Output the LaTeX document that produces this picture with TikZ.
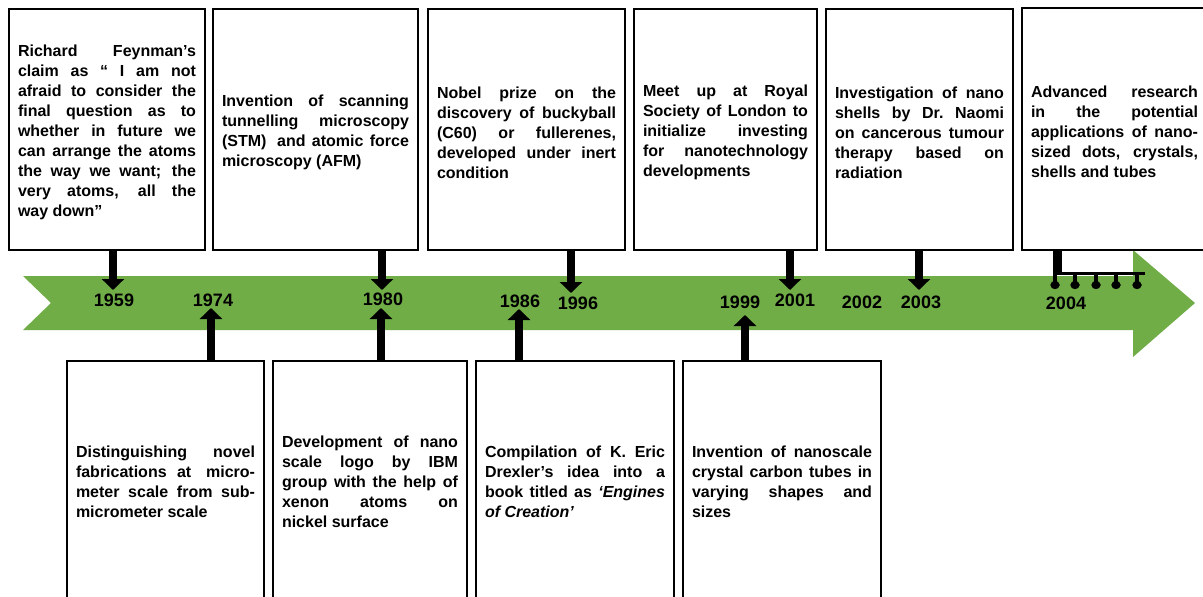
\documentclass[tikz,border=0pt]{standalone}
\usepackage{fontspec}
\setmainfont{Liberation Sans}
\usetikzlibrary{arrows.meta}
\definecolor{tlgreen}{HTML}{70AD47}
\newlength\rowW
\newcommand\jrow[1]{\hbox to\rowW{\spaceskip=0.278em plus 1fil\relax\xspaceskip=\spaceskip #1}}
\newcommand\lrow[1]{\hbox{\spaceskip=0.278em\relax\xspaceskip=\spaceskip #1}}
\newcommand\downtext[1]{\vbox{\kern6pt #1}}
\begin{document}
\begin{tikzpicture}[x=1pt,y=-1pt,
  evbox/.style={draw, line width=2pt, fill=white, inner xsep=9pt, inner ysep=0pt,
    anchor=north west, font=\fontsize{16}{20}\selectfont\bfseries,
    text width=#1},
  yearlbl/.style={font=\fontsize{18}{18}\selectfont\bfseries, inner sep=0pt},
  conn/.style={line width=8.5pt, -{Triangle[width=22pt,length=11pt]}},
  pinline/.style={line width=4.5pt, -{Circle[length=8pt,width=9pt]}}]
\useasboundingbox (0,0) rectangle (1203,597);
\fill[white] (0,0) rectangle (1203,597);
% timeline arrow
\fill[tlgreen] (23,276) -- (1133,276) -- (1133,250) -- (1195,303) -- (1133,357)
  -- (1133,330) -- (23,330) -- (51,303) -- cycle;
% year labels
\node[yearlbl] (y1959) at (114,300) {1959};
\node[yearlbl] (y1974) at (213,300) {1974};
\node[yearlbl] (y1980) at (383,299) {1980};
\node[yearlbl] (y1986) at (520,301) {1986};
\node[yearlbl] (y1996) at (578,303) {1996};
\node[yearlbl] (y1999) at (740,302) {1999};
\node[yearlbl] (y2001) at (795,300) {2001};
\node[yearlbl] (y2002) at (862,302) {2002};
\node[yearlbl] (y2003) at (921,302) {2003};
\node[yearlbl] (y2004) at (1066,303) {2004};
% top boxes
\setlength{\rowW}{178pt}
\node[evbox=178pt, minimum height=241pt] (b1) at (8,8) {\downtext{%
\jrow{Richard Feynman’s}
\jrow{claim as “ I am not}
\jrow{afraid to consider the}
\jrow{final question as to}
\jrow{whether in future we}
\jrow{can arrange the atoms}
\jrow{the way we want; the}
\jrow{very atoms, all the}
\lrow{way down”}}};
\setlength{\rowW}{187pt}
\node[evbox=187pt, minimum height=241pt] (b2) at (212,8) {\downtext{%
\jrow{Invention of scanning}
\jrow{tunnelling microscopy}
\jrow{(STM)\hskip0.278em\ and atomic force}
\lrow{microscopy (AFM)}}};
\setlength{\rowW}{179pt}
\node[evbox=179pt, minimum height=241pt] (b3) at (427,8) {\downtext{%
\jrow{Nobel prize on the}
\jrow{discovery of buckyball}
\jrow{(C60) or fullerenes,}
\jrow{developed under inert}
\lrow{condition}}};
\setlength{\rowW}{165pt}
\node[evbox=165pt, minimum height=241pt] (b4) at (633,8) {\downtext{%
\jrow{Meet up at Royal}
\jrow{Society of London to}
\jrow{initialize investing}
\jrow{for nanotechnology}
\lrow{developments}}};
\setlength{\rowW}{169pt}
\node[evbox=169pt, minimum height=241pt] (b5) at (825,8) {\downtext{%
\jrow{Investigation of nano}
\jrow{shells by Dr. Naomi}
\jrow{on cancerous tumour}
\jrow{therapy based on}
\lrow{radiation}}};
\setlength{\rowW}{167pt}
\node[evbox=167pt, minimum height=242pt] (b6) at (1021,7) {\downtext{%
\jrow{Advanced research}
\jrow{in the potential}
\jrow{applications of nano-}
\jrow{sized dots, crystals,}
\lrow{shells and tubes}}};
% bottom boxes
\setlength{\rowW}{179pt}
\node[evbox=179pt, minimum height=242pt] (c1) at (66,360) {%
\jrow{Distinguishing novel}
\jrow{fabrications at\hskip0.278em\ micro-}
\jrow{meter scale from sub-}
\lrow{micrometer scale}};
\setlength{\rowW}{176pt}
\node[evbox=176pt, minimum height=242pt] (c2) at (272,360) {%
\jrow{Development of nano}
\jrow{scale logo by IBM}
\jrow{group with the help of}
\jrow{xenon atoms on}
\lrow{nickel surface}};
\setlength{\rowW}{180pt}
\node[evbox=180pt, minimum height=242pt] (c3) at (475,360) {%
\jrow{Compilation of K. Eric}
\jrow{Drexler’s idea into a}
\jrow{book titled as \textit{‘Engines}}
\lrow{\textit{of Creation’}}};
\setlength{\rowW}{180pt}
\node[evbox=180pt, minimum height=242pt] (c4) at (682,360) {%
\jrow{Invention of nanoscale}
\jrow{crystal carbon tubes in}
\jrow{varying shapes and}
\lrow{sizes}};
% connector end points
\coordinate (t1959) at (113,290);
\coordinate (t1980d) at (382,290);
\coordinate (t1996) at (571,293);
\coordinate (t2001) at (790,290);
\coordinate (t2003) at (919,290);
\coordinate (t1974) at (211,308);
\coordinate (t1980u) at (381,308);
\coordinate (t1986) at (519,309);
\coordinate (t1999) at (745,315);
% down connectors
\draw[conn] (b1.south -| t1959) -- (t1959);
\draw[conn] (b2.south -| t1980d) -- (t1980d);
\draw[conn] (b3.south -| t1996) -- (t1996);
\draw[conn] (b4.south -| t2001) -- (t2001);
\draw[conn] (b5.south -| t2003) -- (t2003);
% up connectors
\draw[conn] (c1.north -| t1974) -- (t1974);
\draw[conn] (c2.north -| t1980u) -- (t1980u);
\draw[conn] (c3.north -| t1986) -- (t1986);
\draw[conn] (c4.north -| t1999) -- (t1999);
% 2004 bracket
\coordinate (br0) at (1055,273);
\coordinate (br1) at (1145,273);
\draw[line width=9pt] (b6.south -| 1057,0) -- (1057,274.5);
\draw[line width=3pt] (br0) -- (br1);
\foreach \px [count=\i] in {1055,1075,1096,1116,1137} {
  \coordinate (pt\i) at (\px,273);
  \coordinate (pe\i) at (\px,289);
  \draw[pinline] (pt\i) -- (pe\i);
}
\end{tikzpicture}
\end{document}
